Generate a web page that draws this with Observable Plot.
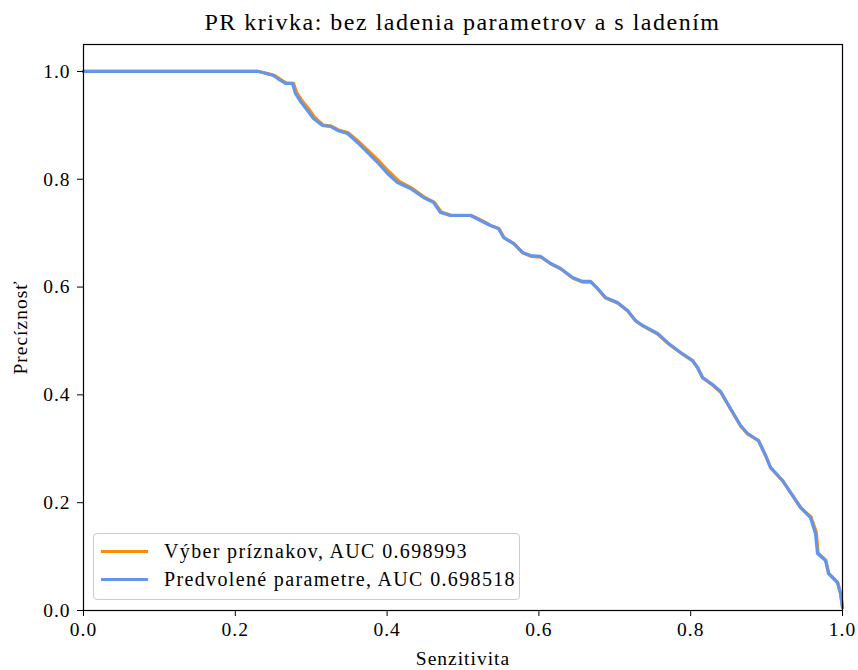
<!DOCTYPE html>
<html>
<head>
<meta charset="utf-8">
<script src="https://cdn.jsdelivr.net/npm/d3@7"></script>
<script src="https://cdn.jsdelivr.net/npm/@observablehq/plot@0.6"></script>
<style>
  body { margin: 0; background: #fff; }
  #wrap { position: relative; width: 858px; height: 670px; font-family: "Liberation Serif", "DejaVu Serif", serif; }
  #title { position: absolute; left: 83px; width: 759px; top: 9px; text-align: center; font-size: 24px; letter-spacing: 1.5px; color: #000; }
  #legend { position: absolute; left: 93px; top: 533px; width: 427px; height: 67px; box-sizing: border-box;
            border: 1px solid #ccc; border-radius: 4px; background: rgba(255,255,255,0.8); font-size: 20px; letter-spacing: 1.35px; }
  .row { position: absolute; left: 0; height: 26px; display: flex; align-items: center; }
  .sw { width: 47px; height: 3px; margin-left: 7px; margin-right: 16px; }
  svg text { letter-spacing: 1px; }
</style>
</head>
<body>
<div id="wrap">
  <div id="chart"></div>
  <div id="title">PR krivka: bez ladenia parametrov a s ladením</div>
  <div id="legend"></div>
</div>
<script>
const seriesNames = ["Výber príznakov, AUC 0.698993", "Predvolené parametre, AUC 0.698518"];
const seriesColors = ["#ff8c00", "#6495ed"];
const xTicks = [0, 0.2, 0.4, 0.6, 0.8, 1.0];
const yTicks = [0, 0.2, 0.4, 0.6, 0.8, 1.0];

// Predvolené parametre (blue)
const recallB = [0, 0.2306, 0.2358, 0.2503, 0.2596, 0.2661, 0.2754, 0.2793, 0.2859, 0.2951, 0.3030, 0.3149, 0.3254, 0.3347, 0.3478, 0.3610, 0.3689, 0.3781, 0.3887, 0.4005, 0.4137, 0.4308, 0.4480, 0.4611, 0.4704, 0.4835, 0.5099, 0.5231, 0.5362, 0.5468, 0.5534, 0.5665, 0.5784, 0.5889, 0.6021, 0.6153, 0.6285, 0.6443, 0.6574, 0.6680, 0.6772, 0.6877, 0.7036, 0.7167, 0.7273, 0.7365, 0.7563, 0.7708, 0.7866, 0.8024, 0.8090, 0.8155, 0.8287, 0.8393, 0.8524, 0.8656, 0.8748, 0.8893, 0.8986, 0.9051, 0.9209, 0.9341, 0.9447, 0.9578, 0.9644, 0.9671, 0.9776, 0.9816, 0.9934, 0.9974, 1.0];
const precB = [1.0, 1.0, 0.9981, 0.9926, 0.9833, 0.9777, 0.9777, 0.9592, 0.9443, 0.9276, 0.9128, 0.8998, 0.8980, 0.8905, 0.8850, 0.8683, 0.8571, 0.8442, 0.8293, 0.8108, 0.7941, 0.7829, 0.7662, 0.7570, 0.7384, 0.7328, 0.7328, 0.7236, 0.7143, 0.7087, 0.6920, 0.6809, 0.6642, 0.6586, 0.6568, 0.6438, 0.6345, 0.6178, 0.6104, 0.6104, 0.5974, 0.5807, 0.5714, 0.5566, 0.5380, 0.5288, 0.5139, 0.4954, 0.4787, 0.4638, 0.4508, 0.4323, 0.4193, 0.4063, 0.3748, 0.3432, 0.3284, 0.3154, 0.2876, 0.2653, 0.2412, 0.2134, 0.1911, 0.1725, 0.1429, 0.1058, 0.0928, 0.0686, 0.0519, 0.0315, 0.0056];

// Výber príznakov (orange)
const recallO = [0, 0.2306, 0.2370, 0.2515, 0.2610, 0.2675, 0.2767, 0.2810, 0.2880, 0.2975, 0.3050, 0.3160, 0.3265, 0.3360, 0.3490, 0.3625, 0.3705, 0.3800, 0.3905, 0.4030, 0.4160, 0.4320, 0.4490, 0.4620, 0.4715, 0.4845, 0.5110, 0.5240, 0.5370, 0.5475, 0.5545, 0.5675, 0.5790, 0.5895, 0.6030, 0.6160, 0.6290, 0.6450, 0.6580, 0.6690, 0.6780, 0.6880, 0.7040, 0.7170, 0.7275, 0.7368, 0.7565, 0.7710, 0.7868, 0.8026, 0.8092, 0.8160, 0.8290, 0.8396, 0.8528, 0.8662, 0.8752, 0.8896, 0.8990, 0.9056, 0.9212, 0.9345, 0.9450, 0.9585, 0.9655, 0.9678, 0.9780, 0.9820, 0.9936, 0.9975, 1.0];
const precO = [1.0, 1.0, 0.9981, 0.9930, 0.9840, 0.9785, 0.9780, 0.9600, 0.9455, 0.9290, 0.9140, 0.9005, 0.8985, 0.8915, 0.8860, 0.8700, 0.8590, 0.8465, 0.8320, 0.8135, 0.7960, 0.7840, 0.7670, 0.7575, 0.7390, 0.7330, 0.7330, 0.7240, 0.7140, 0.7080, 0.6910, 0.6800, 0.6630, 0.6570, 0.6555, 0.6430, 0.6335, 0.6165, 0.6090, 0.6090, 0.5960, 0.5795, 0.5700, 0.5555, 0.5370, 0.5280, 0.5130, 0.4945, 0.4780, 0.4630, 0.4500, 0.4315, 0.4180, 0.4050, 0.3730, 0.3415, 0.3270, 0.3145, 0.2865, 0.2645, 0.2405, 0.2128, 0.1905, 0.1735, 0.1450, 0.1070, 0.0935, 0.0690, 0.0520, 0.0315, 0.0056];

const data = [];
recallO.forEach((r, i) => data.push({s: seriesNames[0], r, p: precO[i]}));
recallB.forEach((r, i) => data.push({s: seriesNames[1], r, p: precB[i]}));

const fmt = d3.format(".1f");
const plot = Plot.plot({
  width: 858,
  height: 670,
  marginTop: 44,
  marginBottom: 60,
  marginLeft: 83,
  marginRight: 16,
  style: { fontFamily: "Liberation Serif, DejaVu Serif, serif", fontSize: "19.5px", color: "#000", background: "#fff" },
  x: { domain: [0, 1], ticks: xTicks, tickFormat: fmt, label: null },
  y: { domain: [0, 1.05], ticks: yTicks, tickFormat: fmt, label: null },
  color: { domain: seriesNames, range: seriesColors },
  marks: [
    Plot.line(data, { x: "r", y: "p", z: "s", stroke: "s", strokeWidth: 3.2, curve: "linear", strokeLinejoin: "round" }),
    Plot.frame({ stroke: "#000", strokeWidth: 1.2 }),
    Plot.axisX({ ticks: xTicks, tickFormat: fmt, tickSize: 6, tickPadding: 6, label: null, stroke: "#000", strokeOpacity: 1, fontSize: 19.5 }),
    Plot.axisY({ ticks: yTicks, tickFormat: fmt, tickSize: 6, tickPadding: 7, label: null, stroke: "#000", strokeOpacity: 1, fontSize: 19.5 }),
    Plot.text(["Senzitivita"], { frameAnchor: "bottom", dy: 54, fontSize: 19.5 }),
    Plot.text(["Precíznosť"], { frameAnchor: "left", dx: -63, rotate: -90, textAnchor: "middle", fontSize: 19.5 })
  ]
});
document.getElementById("chart").appendChild(plot);

const leg = document.getElementById("legend");
seriesNames.forEach((n, i) => {
  const row = document.createElement("div");
  row.className = "row";
  row.style.top = (4 + i * 28) + "px";
  const sw = document.createElement("div");
  sw.className = "sw";
  sw.style.background = seriesColors[i];
  const t = document.createElement("span");
  t.textContent = n;
  row.appendChild(sw); row.appendChild(t);
  leg.appendChild(row);
});
</script>
</body>
</html>
